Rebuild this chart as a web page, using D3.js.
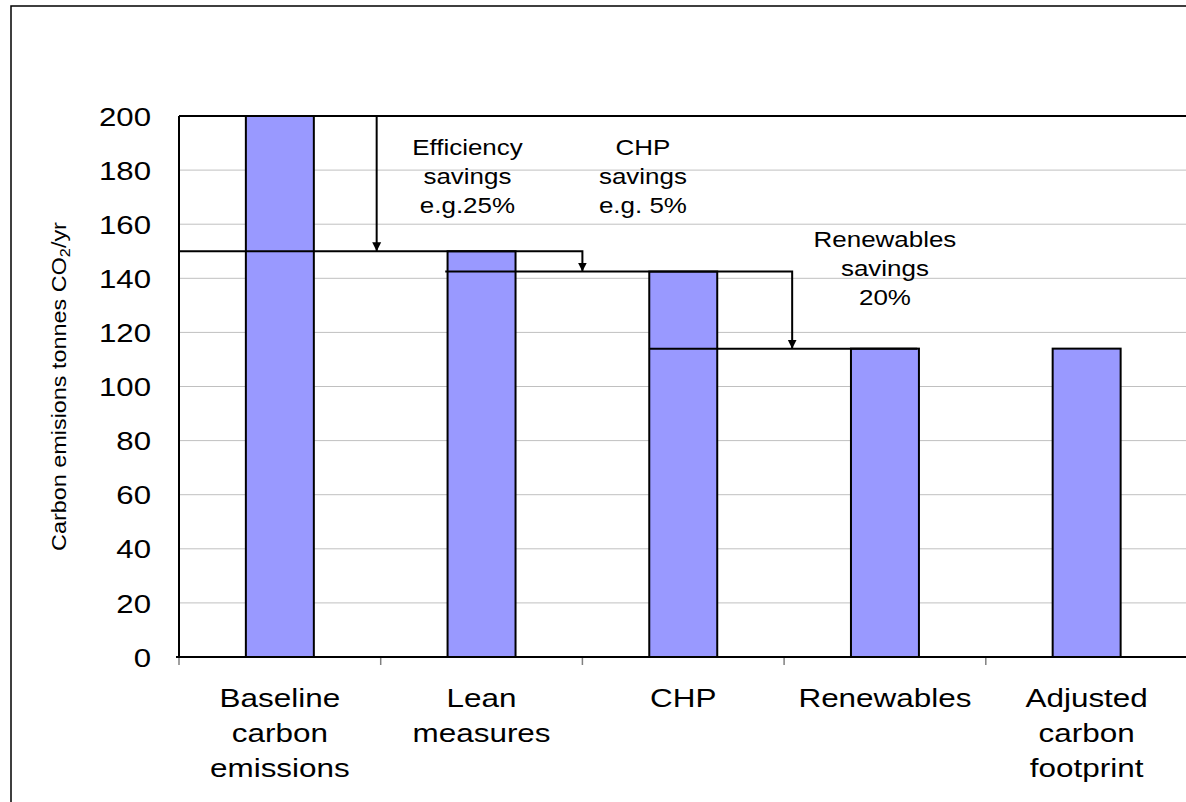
<!DOCTYPE html>
<html>
<head>
<meta charset="utf-8">
<script src="https://cdn.jsdelivr.net/npm/d3@7"></script>
<style>
  body { margin: 0; background: #fff; }
  svg { display: block; font-family: "Liberation Sans", Arial, sans-serif; }
</style>
</head>
<body>
<svg id="chart" width="1186" height="802"></svg>
<script>
// data
const categories = ["Baseline carbon emissions", "Lean measures", "CHP", "Renewables", "Adjusted carbon footprint"];
const categoryLines = [["Baseline", "carbon", "emissions"], ["Lean", "measures"], ["CHP"], ["Renewables"], ["Adjusted", "carbon", "footprint"]];
const values = [200, 150, 142.5, 114, 114];
const yTicks = [0, 20, 40, 60, 80, 100, 120, 140, 160, 180, 200];

// step lines, x in category units (0 = left edge of first category), y in tonnes
const stepPaths = [
  { pts: [[0.98, 200], [0.98, 150]], arrow: true },
  { pts: [[0, 150], [2.0, 150], [2.0, 142.5]], arrow: true },
  { pts: [[1.32, 142.5], [3.04, 142.5], [3.04, 114]], arrow: true },
  { pts: [[2.33, 114], [3.66, 114]], arrow: false }
];
const notes = [
  { x: 1.43, lines: ["Efficiency", "savings", "e.g.25%"], y: 155 },
  { x: 2.30, lines: ["CHP", "savings", "e.g. 5%"], y: 155 },
  { x: 3.50, lines: ["Renewables", "savings", "20%"], y: 247 }
];

const svg = d3.select("#chart");
const plotLeft = 179, plotTop = 116, plotBottom = 657;
const step = 201.7;
const plotRight = plotLeft + step * categories.length;
const stretch = 1.2;

// outer frame
svg.append("path")
  .attr("d", `M11,810 L11,6 L1200,6`)
  .attr("fill", "none")
  .attr("stroke", "#000")
  .attr("stroke-width", 1.5);

const x = d3.scaleBand().domain(categories).range([plotLeft, plotRight]).paddingInner(0.663).paddingOuter(0.3315);
const xi = d3.scaleLinear().domain([0, categories.length]).range([plotLeft, plotRight]);
const y = d3.scaleLinear().domain([0, 200]).range([plotBottom, plotTop]);

// gridlines
svg.append("g")
  .selectAll("line")
  .data(yTicks.filter(d => d > 0 && d < 200))
  .enter()
  .append("line")
  .attr("x1", plotLeft).attr("x2", plotRight)
  .attr("y1", d => y(d)).attr("y2", d => y(d))
  .attr("stroke", "#c0c0c0")
  .attr("stroke-width", 1);

// y axis labels
const yAxis = svg.append("g")
  .attr("transform", `translate(${plotLeft},0)`)
  .call(d3.axisLeft(y).tickValues(yTicks).tickSize(0).tickPadding(0));
yAxis.select(".domain").remove();
yAxis.selectAll("text")
  .attr("x", 0)
  .attr("dy", "0.35em")
  .attr("font-size", 26)
  .attr("font-family", "Liberation Sans, Arial, sans-serif")
  .attr("fill", "#000")
  .attr("transform", `translate(-28,0) scale(${stretch},1)`);

// x ticks
svg.append("g")
  .selectAll("line")
  .data(d3.range(categories.length + 1))
  .enter()
  .append("line")
  .attr("x1", d => xi(d)).attr("x2", d => xi(d))
  .attr("y1", plotBottom).attr("y2", plotBottom + 8)
  .attr("stroke", "#808080")
  .attr("stroke-width", 1.5);

// bars
svg.append("g")
  .selectAll("rect")
  .data(values)
  .enter()
  .append("rect")
  .attr("x", (d, i) => x(categories[i]))
  .attr("y", d => y(d))
  .attr("width", x.bandwidth())
  .attr("height", d => y(0) - y(d))
  .attr("fill", "#9999ff")
  .attr("stroke", "#000")
  .attr("stroke-width", 2);

// plot frame
svg.append("path")
  .attr("d", `M${plotLeft},${plotTop} L${plotRight},${plotTop} M${plotLeft},${plotTop} L${plotLeft},${plotBottom} M${plotLeft - 3},${plotBottom} L${plotRight},${plotBottom}`)
  .attr("fill", "none")
  .attr("stroke", "#000")
  .attr("stroke-width", 2);

// arrow marker
svg.append("defs").append("marker")
  .attr("id", "arrow")
  .attr("markerUnits", "userSpaceOnUse")
  .attr("viewBox", "0 0 10 10")
  .attr("refX", 10).attr("refY", 5)
  .attr("markerWidth", 9).attr("markerHeight", 10)
  .attr("orient", "auto")
  .append("path")
  .attr("d", "M0,0 L10,5 L0,10 z")
  .attr("fill", "#000");

const line = d3.line().x(d => xi(d[0])).y(d => y(d[1]));
svg.append("g")
  .selectAll("path")
  .data(stepPaths)
  .enter()
  .append("path")
  .attr("d", d => line(d.pts))
  .attr("fill", "none")
  .attr("stroke", "#000")
  .attr("stroke-width", 2)
  .attr("marker-end", d => d.arrow ? "url(#arrow)" : null);

// annotation text
notes.forEach(n => {
  n.lines.forEach((t, k) => {
    svg.append("text")
      .attr("transform", `translate(${xi(n.x)},${n.y + k * 29}) scale(1.18,1)`)
      .attr("text-anchor", "middle")
      .attr("font-size", 22)
      .attr("fill", "#000")
      .text(t);
  });
});

// category labels
categoryLines.forEach((lines, i) => {
  lines.forEach((t, k) => {
    svg.append("text")
      .attr("transform", `translate(${x(categories[i]) + x.bandwidth() / 2},${707 + k * 35}) scale(1.21,1)`)
      .attr("text-anchor", "middle")
      .attr("font-size", 26)
      .attr("fill", "#000")
      .text(t);
  });
});

// y axis title
const title = svg.append("text")
  .attr("transform", `translate(66,${(plotTop + plotBottom) / 2}) rotate(-90) scale(1.17,1)`)
  .attr("text-anchor", "middle")
  .attr("font-size", 20)
  .attr("fill", "#000");
title.append("tspan").text("Carbon emisions tonnes CO");
title.append("tspan").attr("font-size", 14).attr("dy", 4).text("2");
title.append("tspan").attr("dy", -4).text("/yr");
</script>
</body>
</html>
